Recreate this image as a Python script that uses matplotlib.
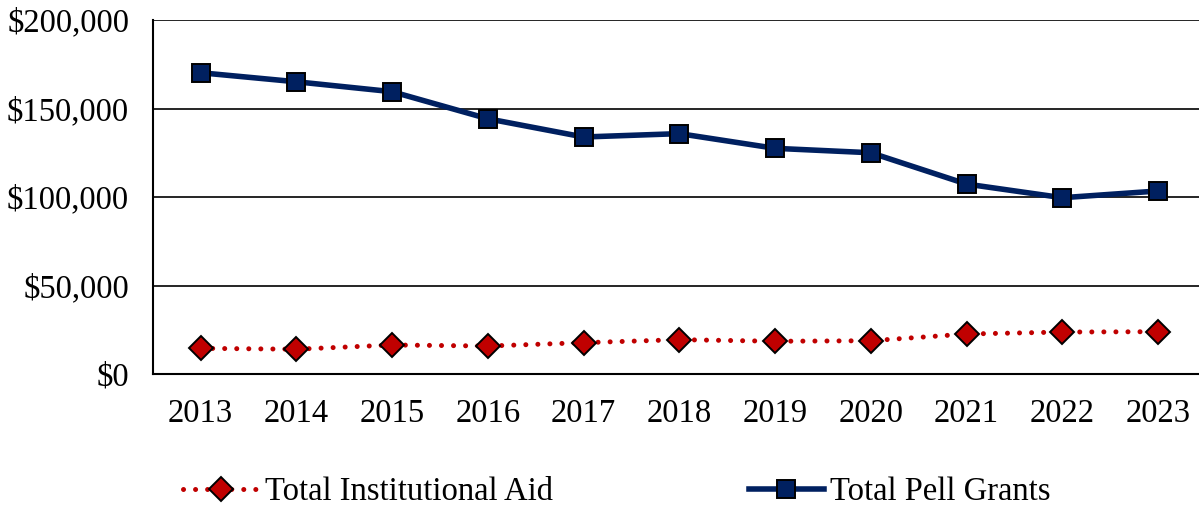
import matplotlib.pyplot as plt
from matplotlib.ticker import FuncFormatter

years = ["2013", "2014", "2015", "2016", "2017", "2018", "2019", "2020", "2021", "2022", "2023"]
pell_grants = [170200, 165100, 159500, 144200, 133900, 135800, 127500, 125000, 107300, 99600, 103400]
institutional_aid = [14500, 14000, 16400, 15800, 17700, 19400, 18500, 18800, 22600, 23700, 23900]

plt.rcParams['font.family'] = ['Liberation Serif', 'DejaVu Serif']

fig = plt.figure(figsize=(11.99, 5.08), dpi=100)
# оси выходят чуть за правый край, как на исходнике
ax = fig.add_axes([152.7 / 1199, 134 / 508, 1053.3 / 1199, 354 / 508])

x = list(range(len(years)))
ax.plot(x, institutional_aid, color='#C00000', lw=3.6, linestyle=(0, (0.01, 2.4)),
        dash_capstyle='round', marker='D', markersize=12, markerfacecolor='#C00000',
        markeredgecolor='black', markeredgewidth=1.4, label='Total Institutional Aid', zorder=3)
ax.plot(x, pell_grants, color='#002060', lw=4.0, marker='s', markersize=13.5,
        markerfacecolor='#002060', markeredgecolor='black', markeredgewidth=1.4,
        label='Total Pell Grants', zorder=4)

ax.set_xlim(-0.5, 10.5)
ax.set_ylim(0, 200000)
ax.set_yticks([0, 50000, 100000, 150000, 200000])
ax.yaxis.set_major_formatter(FuncFormatter(lambda v, p: f"${v:,.0f}"))
ax.set_xticks(x)
ax.set_xticklabels(years)
ax.tick_params(length=0, labelsize=23.5, colors='black')
ax.tick_params(axis='x', pad=18)
ax.tick_params(axis='y', pad=17)
ax.grid(axis='y', color='black', lw=1.2)
ax.set_axisbelow(True)
for s in ['top', 'right']:
    ax.spines[s].set_visible(False)
for s in ['left', 'bottom']:
    ax.spines[s].set_linewidth(1.5)
    ax.spines[s].set_color('black')

fig.legend(loc='center', bbox_to_anchor=(617 / 1199, 1 - 492 / 508), ncol=2, frameon=False,
           fontsize=23.5, handlelength=2.3, handletextpad=0.2, columnspacing=6.0)

plt.savefig("out.png", dpi=100)
